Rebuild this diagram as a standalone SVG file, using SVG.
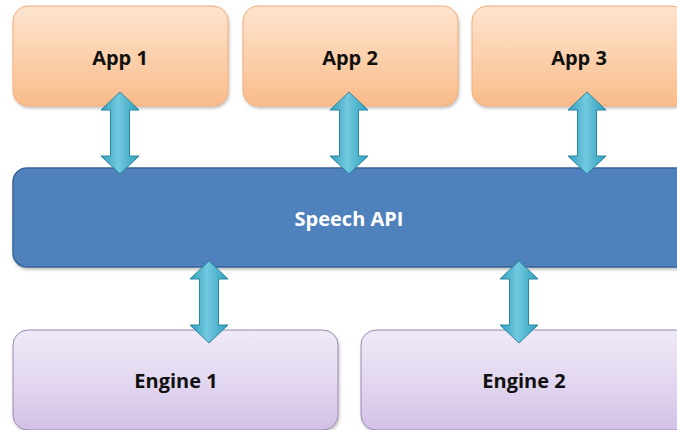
<svg xmlns="http://www.w3.org/2000/svg" width="677" height="430" viewBox="0 0 677 430">
  <defs>
    <linearGradient id="gApp" x1="0" y1="0" x2="0" y2="1">
      <stop offset="0" stop-color="#fde3cf"/>
      <stop offset="0.5" stop-color="#fcd1ad"/>
      <stop offset="1" stop-color="#f9bb8a"/>
    </linearGradient>
    <linearGradient id="gEng" x1="0" y1="0" x2="0" y2="1">
      <stop offset="0" stop-color="#efe9f7"/>
      <stop offset="0.5" stop-color="#e3d8f0"/>
      <stop offset="1" stop-color="#d2c1e6"/>
    </linearGradient>
    <linearGradient id="gArrow" x1="0" y1="0" x2="1" y2="0">
      <stop offset="0" stop-color="#2f9fbd"/>
      <stop offset="0.45" stop-color="#72c9df"/>
      <stop offset="1" stop-color="#2f9fbd"/>
    </linearGradient>
    <filter id="shadow" x="-10%" y="-10%" width="120%" height="130%">
      <feDropShadow dx="1" dy="2" stdDeviation="1.5" flood-color="#000" flood-opacity="0.25"/>
    </filter>
    <!-- double-headed block arrow, centred on x=0, spanning y=0..82 -->
    <path id="dbl" d="M0 0 L19 18 L9.5 18 L9.5 64 L19 64 L0 82 L-19 64 L-9.5 64 L-9.5 18 L-19 18 Z"/>
  </defs>
  <style>
    .app { fill: url(#gApp); stroke: #f2ac78; stroke-width: 1; filter: url(#shadow); }
    .api { fill: #4f81bd; stroke: #3a6496; stroke-width: 1.5; filter: url(#shadow); }
    .eng { fill: url(#gEng); stroke: #9b8ab0; stroke-width: 1; filter: url(#shadow); }
    .arrow { fill: url(#gArrow); stroke: #2a86a0; stroke-width: 1; }
    text { font-family: "Open Sans", "Liberation Sans", sans-serif; font-weight: bold; font-size: 20px; text-anchor: middle; dominant-baseline: central; fill: #111; }
    .light { fill: #ffffff; }
  </style>

  <rect width="677" height="430" fill="#ffffff"/>

  <g id="app1">
    <rect class="app" x="13" y="6" width="215" height="100" rx="15"/>
    <text x="120" y="57">App 1</text>
  </g>
  <g id="app2">
    <rect class="app" x="243" y="6" width="215" height="100" rx="15"/>
    <text x="350" y="57">App 2</text>
  </g>
  <g id="app3">
    <rect class="app" x="472" y="6" width="215" height="100" rx="15"/>
    <text x="579" y="57">App 3</text>
  </g>

  <g id="speech-api">
    <rect class="api" x="13" y="168" width="680" height="99" rx="14"/>
    <text class="light" x="349" y="218">Speech API</text>
  </g>

  <g id="engine1">
    <rect class="eng" x="13" y="330" width="325" height="100" rx="15"/>
    <text x="176" y="380">Engine 1</text>
  </g>
  <g id="engine2">
    <rect class="eng" x="361" y="330" width="330" height="100" rx="15"/>
    <text x="524" y="380">Engine 2</text>
  </g>

  <g id="connectors">
    <use href="#dbl" class="arrow" transform="translate(120 92)"/>
    <use href="#dbl" class="arrow" transform="translate(349 92)"/>
    <use href="#dbl" class="arrow" transform="translate(587 92)"/>
    <use href="#dbl" class="arrow" transform="translate(209 261)"/>
    <use href="#dbl" class="arrow" transform="translate(519 261)"/>
  </g>
</svg>
